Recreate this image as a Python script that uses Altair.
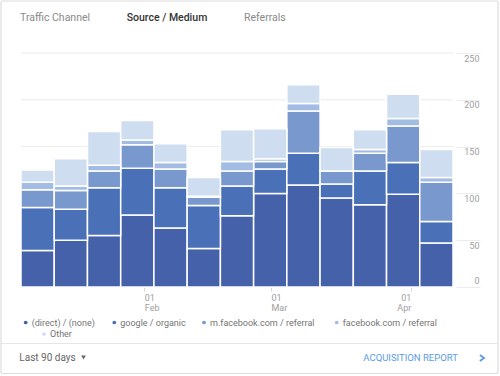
import altair as alt
import pandas as pd

# ---- data ----
series = ["(direct) / (none)", "google / organic", "m.facebook.com / referral",
          "facebook.com / referral", "Other"]
colors = ["#4561AA", "#4A71B8", "#7898CE", "#A3BCE4", "#CFDDF1"]

direct = [39, 50, 55, 77, 63, 41, 76, 100, 109, 95, 88, 99, 47]
google = [46, 33, 51, 50, 43, 46, 32, 26, 34, 15, 36, 34, 23]
mfb    = [19, 20, 18, 25, 20, 9, 16, 8, 45, 14, 19, 39, 42]
fb     = [8, 5, 6, 5, 7, 1, 10, 3, 8, 0, 4, 8, 5]
other  = [13, 29, 36, 21, 20, 20, 34, 32, 20, 25, 21, 26, 30]

# month starts, in week units on the x axis
month_pos = [3.71, 7.52, 11.73]
month_day = ["01", "01", "01"]
month_name = ["Feb", "Mar", "Apr"]

y_ticks = [0, 50, 100, 150, 200, 250]

# ---- build long table ----
rows = []
for s_i, (name, vals) in enumerate(zip(series, [direct, google, mfb, fb, other])):
    for w, v in enumerate(vals):
        rows.append({"week": w, "series": name, "order": s_i, "value": v})
df = pd.DataFrame(rows)

W, H = 432, 234
PAD = {"left": 21, "top": 53, "right": 47, "bottom": 89}

color_scale = alt.Scale(domain=series, range=colors)
y_scale = alt.Scale(domain=[0, 250], nice=False)

label_expr = " : ".join(
    [f"datum.value < {p + 0.5} ? ['{d}', '{m}']" for p, d, m in zip(month_pos[:-1], month_day[:-1], month_name[:-1])]
    + [f"['{month_day[-1]}', '{month_name[-1]}']"]
)

y_axis = alt.Axis(orient="right", values=y_ticks, title=None, domain=False,
                  grid=False, ticks=True, tickSize=24,
                  tickColor="#ececec", offset=3, labelAlign="right", labelPadding=-1,
                  labelBaseline={"condition": {"test": "datum.value == 0", "value": "bottom"}, "value": "top"},
                  labelOffset={"condition": {"test": "datum.value == 0", "value": -2}, "value": 1},
                  labelFontSize=9, labelFont="Roboto", labelColor="#9e9e9e",
                  labelFlush=False, labelOverlap=False)

grid = alt.Chart(pd.DataFrame({"g": y_ticks})).mark_rule(color="#ececec", strokeWidth=1).encode(
    y=alt.Y("g:Q", scale=y_scale, axis=y_axis), x=alt.value(0), x2=alt.value(W))

bars = alt.Chart(df).transform_stack(
    stack="value", groupby=["week"], as_=["y0", "y1"], sort=[alt.SortField("order")]
).transform_calculate(
    week_end="datum.week + 1"
).mark_bar(stroke="white", strokeWidth=1.5).encode(
    x=alt.X("week:Q", scale=alt.Scale(domain=[0, len(direct)], nice=False, zero=False),
            axis=alt.Axis(values=month_pos, labelExpr=label_expr, title=None, domain=False,
                          grid=False, ticks=True, tickSize=4, tickColor="#d6d6d6",
                          labelAlign={"condition": {"test": f"datum.value > {month_pos[-1] - 0.5}", "value": "right"}, "value": "left"},
                          labelBaseline="top", labelPadding=2, labelFontSize=9,
                          labelFont="Roboto", labelColor="#9e9e9e", labelLineHeight=10,
                          labelFlush=False, labelOverlap=False)),
    x2="week_end:Q",
    y=alt.Y("y0:Q", scale=y_scale, axis=y_axis),
    y2="y1:Q",
    color=alt.Color("series:N", scale=color_scale, legend=None),
)

# ---- manual legend (layout in pixels relative to plot origin) ----
legend_layout_x = [4.7, 93.3, 183, 315.7, 23]
legend_layout_y = [269.5, 269.5, 269.5, 269.5, 281]
leg_df = pd.DataFrame({"series": series, "lx": legend_layout_x, "ly": legend_layout_y})
leg_df["tx"] = leg_df["lx"] + 6

legend_dots = alt.Chart(leg_df).mark_point(filled=True, size=14, opacity=1).encode(
    x=alt.X("lx:Q", scale=None), y=alt.Y("ly:Q", scale=None),
    color=alt.Color("series:N", scale=color_scale, legend=None),
)
legend_text = alt.Chart(leg_df).mark_text(
    align="left", baseline="middle", font="Roboto", fontSize=9, color="#757575"
).encode(x=alt.X("tx:Q", scale=None), y=alt.Y("ly:Q", scale=None), text="series:N")

one = alt.Data(values=[{}])

def label(txt, x, y, size=10.5, color="#888", weight="normal", align="left"):
    return alt.Chart(one).mark_text(
        text=txt, align=align, baseline="middle", font="Roboto", fontSize=size,
        color=color, fontWeight=weight
    ).encode(x=alt.value(x), y=alt.value(y))

tabs = [
    label("Traffic Channel", -1, -35.5, color="#8a8a8a"),
    label("Source / Medium", 105.7, -35.5, color="#333333", weight=500),
    label("Referrals", 223, -35.5, color="#8a8a8a"),
]

footer = [
    label("Last 90 days", -1.7, 305, size=10, color="#666666"),
    label("ACQUISITION REPORT", 342.3, 305, size=9.5, color="#5a9be6"),
]

tri = alt.Chart(one).mark_point(shape="triangle-down", filled=True, size=22, color="#666666",
                                opacity=1).encode(x=alt.value(62.5), y=alt.value(304.5))
chev = alt.Chart(one).mark_point(shape="M-0.7,-1L0.7,0L-0.7,1", filled=False, size=36,
                                 strokeWidth=1.8, color="#5a9be6", opacity=1).encode(
    x=alt.value(461), y=alt.value(305))

sep = alt.Chart(one).mark_rule(color="#e6e6e6", strokeWidth=1).encode(
    x=alt.value(-20), x2=alt.value(477), y=alt.value(290.5))
card = alt.Chart(one).mark_rect(fill=None, stroke="#dcdcdc", strokeWidth=1.2, cornerRadius=2).encode(
    x=alt.value(-20), x2=alt.value(477), y=alt.value(-52), y2=alt.value(320.5))

chart = alt.layer(
    card, grid, bars, legend_dots, legend_text, sep, tri, chev, *tabs, *footer
).properties(
    width=W, height=H, padding=PAD, autosize=alt.AutoSizeParams(type="none"),
    background="white",
).configure_view(stroke=None)

chart.save("out.html", embed_options={"renderer": "svg", "actions": False})
